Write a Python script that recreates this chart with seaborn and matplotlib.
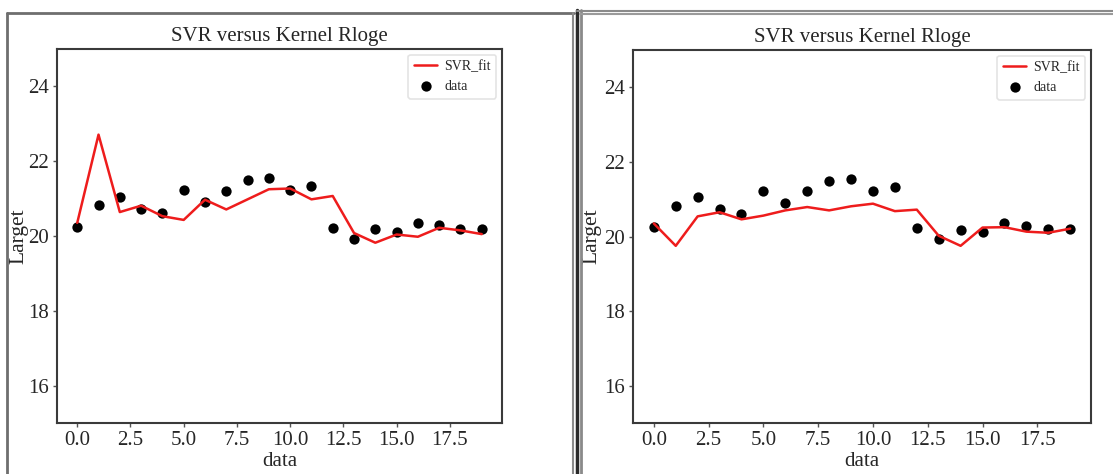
import matplotlib
matplotlib.use("Agg")
import matplotlib.pyplot as plt
from matplotlib.lines import Line2D
import numpy as np
import pandas as pd
import seaborn as sns

# data
x_idx = list(range(20))
data_y = [20.25, 20.82, 21.05, 20.73, 20.61, 21.23, 20.91, 21.21, 21.50, 21.55,
          21.22, 21.33, 20.22, 19.93, 20.18, 20.11, 20.35, 20.29, 20.19, 20.20]
fit_left = [20.35, 22.71, 20.64, 20.81, 20.53, 20.43, 20.97, 20.71, 20.98, 21.25,
            21.27, 20.98, 21.07, 20.08, 19.82, 20.04, 19.98, 20.22, 20.15, 20.05]
fit_right = [20.35, 19.75, 20.54, 20.65, 20.46, 20.56, 20.70, 20.79, 20.70, 20.81,
             20.88, 20.68, 20.72, 20.02, 19.75, 20.24, 20.25, 20.13, 20.10, 20.21]
y_ticks = [16, 18, 20, 22, 24]
x_ticks = [0.0, 2.5, 5.0, 7.5, 10.0, 12.5, 15.0, 17.5]
title = "SVR versus Kernel Rloge"

W, H = 1113, 474
sns.set_style("white")
plt.rcParams['font.family'] = ['Liberation Serif', 'DejaVu Serif']

fig = plt.figure(figsize=(W / 100, H / 100), dpi=100)


def box(l, t, r, b):
    # pixel box -> figure fraction rect
    return [l / W, 1 - b / H, (r - l) / W, (b - t) / H]


def vline(x, y0, y1, **kw):
    fig.add_artist(Line2D([x / W, x / W], [1 - y0 / H, 1 - y1 / H], **kw))


def hline(y, x0, x1, **kw):
    fig.add_artist(Line2D([x0 / W, x1 / W], [1 - y / H, 1 - y / H], **kw))


# screenshot frames
vline(7, 13, 480, color="#6e6e6e", lw=2)
hline(13, 7, 574, color="#6e6e6e", lw=2)
vline(573, 13, 480, color="#8a8a8a", lw=1.5)
vline(576.5, 10, 480, color="#2a2a2a", lw=2.5)
vline(580.5, 10, 480, color="#8a8a8a", lw=2)
hline(11, 577, 1113, color="#8a8a8a", lw=1.5)
hline(14, 580, 1113, color="#9a9a9a", lw=1.5)


def panel(l, t, r, b, ylab_x, fit):
    ax = fig.add_axes(box(l, t, r, b))
    df = pd.DataFrame({"data": x_idx, "Larget": data_y, "fit": fit})
    sns.lineplot(data=df, x="data", y="fit", ax=ax, color="#ee1c1c", lw=1.8,
                 label="SVR_fit")
    sns.scatterplot(data=df, x="data", y="Larget", ax=ax, color="black", s=55,
                    edgecolor="black", linewidth=0, label="data")
    ax.set_ylim(15, 25)
    ax.set_yticks(y_ticks)
    ax.set_xticks(x_ticks)
    ax.set_xticklabels(["%.1f" % v for v in x_ticks])
    ax.tick_params(labelsize=15, length=3, width=1, color="#555555", pad=3,
                   left=True, bottom=True)
    for s in ax.spines.values():
        s.set_color("#3a3a3a")
        s.set_linewidth(1.5)
    ax.set_title(title, fontsize=15, pad=6)
    ax.set_xlabel("data", fontsize=15)
    ax.set_ylabel("Larget", fontsize=15.5)
    # label positions as in the screenshots
    ax.xaxis.set_label_coords(0.5, -(452 - b) / (b - t))
    ax.yaxis.set_label_coords(-(l - ylab_x) / (r - l), 0.5)
    ax.yaxis.label.set_va("center")
    leg = ax.legend(loc="upper right", fontsize=10, frameon=True,
                    borderpad=0.4, handlelength=1.7, handletextpad=0.5,
                    labelspacing=0.5, borderaxespad=0.4)
    leg.get_frame().set_edgecolor("#dddddd")
    leg.get_frame().set_linewidth(1.2)
    return ax


panel(57, 49, 502, 423, 18.5, fit_left)
panel(633, 50, 1091, 423, 592, fit_right)

fig.savefig("out.png", dpi=100)
